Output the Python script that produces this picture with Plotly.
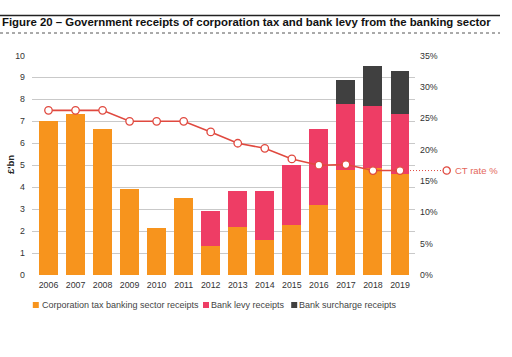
import plotly.graph_objects as go

years = ["2006", "2007", "2008", "2009", "2010", "2011", "2012", "2013",
         "2014", "2015", "2016", "2017", "2018", "2019"]
ct_receipts = [7.0, 7.33, 6.65, 3.92, 2.15, 3.52, 1.3, 2.2, 1.6, 2.27, 3.18, 4.77, 4.88, 4.6]
levy_receipts = [0, 0, 0, 0, 0, 0, 1.62, 1.63, 2.23, 2.73, 3.46, 3.0, 2.8, 2.72]
surcharge_receipts = [0, 0, 0, 0, 0, 0, 0, 0, 0, 0, 0, 1.13, 1.82, 1.95]
ct_rate = [26.25, 26.25, 26.25, 24.5, 24.5, 24.5, 22.8, 21.0, 20.2, 18.5, 17.5, 17.6, 16.65, 16.65]

left_ticks = list(range(0, 11))
right_ticks = list(range(0, 36, 5))
right_labels = [f"{v}%" for v in right_ticks]

ORANGE = "#F7941D"
PINK = "#EE3D65"
DARK = "#404040"
RED = "#E0493F"
FONT = "Liberation Sans, Arial, sans-serif"

fig = go.Figure()
fig.add_bar(x=years, y=ct_receipts, name="Corporation tax banking sector receipts",
            marker=dict(color=ORANGE, line=dict(width=0)), width=0.70)
fig.add_bar(x=years, y=levy_receipts, name="Bank levy receipts",
            marker=dict(color=PINK, line=dict(width=0)), width=0.70)
fig.add_bar(x=years, y=surcharge_receipts, name="Bank surcharge receipts",
            marker=dict(color=DARK, line=dict(width=0)), width=0.70)
fig.add_scatter(x=years, y=ct_rate, name="CT rate %", yaxis="y2", mode="lines+markers",
                line=dict(color=RED, width=1.6),
                marker=dict(size=7.5, color="white", line=dict(color=RED, width=1.3)))

W, H = 512, 357
L, R = 32, 415
T, B = 55, 275
pw, ph = R - L, B - T

def px_x(x):
    return (x - L) / pw

def px_y(y):
    return (B - y) / ph

shapes = [
    dict(type="line", xref="paper", yref="paper", x0=px_x(0), x1=px_x(500),
         y0=px_y(15.5), y1=px_y(15.5), line=dict(color="#222222", width=1.5)),
    dict(type="line", xref="paper", yref="paper", x0=px_x(0), x1=px_x(500),
         y0=px_y(33), y1=px_y(33), line=dict(color="#555555", width=1, dash="dot")),
    dict(type="line", xref="paper", yref="y2", x0=px_x(410), x1=px_x(443),
         y0=ct_rate[-1], y1=ct_rate[-1], line=dict(color=RED, width=1, dash="1px,2px")),
    dict(type="circle", xref="paper", yref="y2", xsizemode="pixel", ysizemode="pixel",
         xanchor=px_x(446.7), yanchor=ct_rate[-1], x0=-3.6, x1=3.6, y0=-3.6, y1=3.6,
         line=dict(color=RED, width=1.3), fillcolor="white"),
]

annotations = [
    dict(text="CT rate %", xref="paper", yref="y2", x=px_x(453), y=ct_rate[-1],
         xanchor="left", yanchor="middle", showarrow=False,
         font=dict(family=FONT, size=9.5, color="#E4675B")),
    dict(text="<b>£'bn</b>", xref="paper", yref="paper", x=px_x(10), y=0.5,
         textangle=-90, xanchor="center", yanchor="middle", showarrow=False,
         font=dict(family=FONT, size=9.5, color="#222222")),
]

legend_items = [
    ("Corporation tax banking sector receipts", ORANGE, 35.8, 39.5),
    ("Bank levy receipts", PINK, 206.0, 209.0),
    ("Bank surcharge receipts", DARK, 294.2, 297.3),
]
for label, col, sx, tx in legend_items:
    shapes.append(dict(type="rect", xref="paper", yref="paper", xsizemode="pixel",
                       ysizemode="pixel", xanchor=px_x(sx), yanchor=px_y(305),
                       x0=-3, x1=3, y0=-3, y1=3, line=dict(width=0), fillcolor=col))
    annotations.append(dict(text=label, xref="paper", yref="paper", x=px_x(tx),
                            y=px_y(305), xanchor="left", yanchor="middle", showarrow=False,
                            font=dict(family=FONT, size=9, color="#444444")))

fig.update_layout(
    width=W, height=H,
    margin=dict(l=L, r=W - R, t=T, b=H - B, pad=0),
    paper_bgcolor="white", plot_bgcolor="white",
    barmode="stack", bargap=0.3,
    showlegend=False,
    title=dict(text="<b>Figure 20 – Government receipts of corporation tax and bank levy from the banking sector</b>",
               xref="container", yref="container", x=2 / W, xanchor="left",
               y=1 - 22 / H, yanchor="middle",
               font=dict(family=FONT, size=11.4, color="#111111")),
    font=dict(family=FONT, size=8.8, color="#333333"),
    xaxis=dict(type="category", range=[-0.61, 13.555], showgrid=False, showline=False,
               ticks="", tickfont=dict(size=8.8, color="#333333"), ticklabelstandoff=3),
    yaxis=dict(range=[0, 10.02], tickvals=left_ticks, showgrid=True, gridcolor="#C9C9C9",
               gridwidth=1, zeroline=False, showline=False, ticks="",
               tickfont=dict(size=8.8, color="#333333"), ticklabelstandoff=6),
    yaxis2=dict(range=[0, 35.07], tickvals=right_ticks, ticktext=right_labels,
                overlaying="y", side="right", showgrid=False, zeroline=False,
                showline=False, ticks="",
                tickfont=dict(size=8.8, color="#333333"), ticklabelstandoff=4),
    shapes=shapes,
    annotations=annotations,
)

fig.write_html("out.html", config={"displayModeBar": False},
               post_script="document.body.style.margin='0';")
